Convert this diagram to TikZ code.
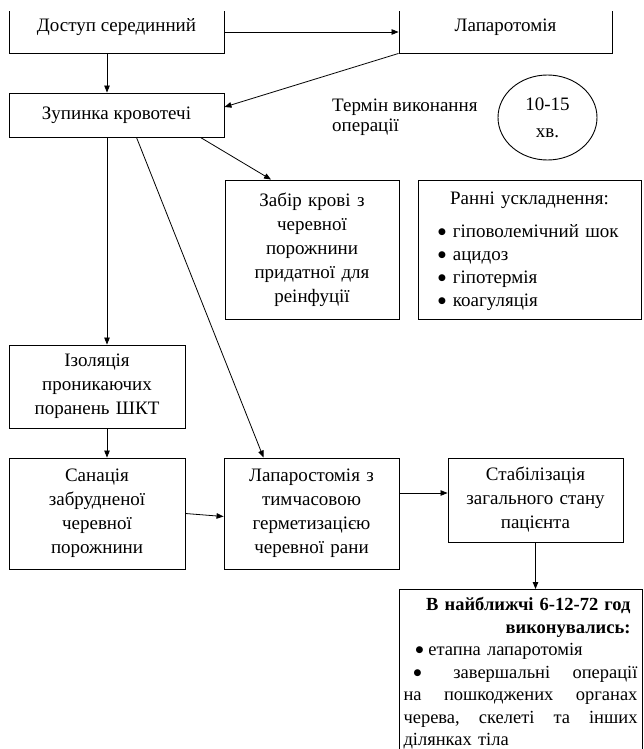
\documentclass[tikz,border=0pt]{standalone}
\usepackage{fontspec}
\setmainfont{Liberation Serif}
\newfontfamily\symfont{DejaVu Sans}
\usetikzlibrary{shapes.geometric,arrows.meta}

\newcommand{\bul}{\raisebox{3pt}{\symfont\fontsize{9}{10}\selectfont ●}}

\tikzset{
  box/.style={shape=rectangle,draw=black,line width=0.9pt,align=center,inner sep=2pt},
  arr/.style={-{Triangle[length=7pt,width=5.5pt]},line width=0.8pt},
}

\begin{document}
\begin{tikzpicture}[x=1pt,y=-1pt,font=\fontsize{19}{24}\selectfont]
        \useasboundingbox (0,0) rectangle (644,749);
        \clip (0,12) rectangle (644,749);
        \coordinate (axis) at (107,0);

        \node[box,minimum width=215pt,minimum height=52pt] (dostup) at (116.5,27) {Доступ серединний};
        \node[box,minimum width=213pt,minimum height=52pt] (lapt) at (505.5,27) {Лапаротомія};
        \node[box,minimum width=215pt,minimum height=44pt] (zup) at (116.5,115) {Зупинка кровотечі};
        \node[anchor=west,align=left,inner sep=0pt,font=\fontsize{19}{20}\selectfont] (termin) at (332,117) {Термін виконання\\операції};
        \node[shape=ellipse,draw=black,line width=0.9pt,minimum width=99pt,minimum height=85pt,inner sep=0pt,align=center,font=\fontsize{19}{27}\selectfont] (circ) at (547.5,117.5) {10-15\\хв.};
        \node[box,minimum width=174pt,minimum height=139pt,text width=164pt] (zabir) at (312,249.5) {Забір крові з\\черевної\\порожнини\\придатної для\\реінфуції};
        \node[box,minimum width=223pt,minimum height=139pt,text width=205pt,align=left,font=\fontsize{19}{23}\selectfont] (rann) at (529.5,249.5) {\rule{0pt}{17pt}\hfill Ранні ускладнення:\hfill\null\\[10pt]
            \hspace*{11pt}\bul\hspace*{7pt}гіповолемічний шок\\
            \hspace*{11pt}\bul\hspace*{7pt}ацидоз\\
            \hspace*{11pt}\bul\hspace*{7pt}гіпотермія\\
            \hspace*{11pt}\bul\hspace*{7pt}коагуляція};
        \node[box,minimum width=176pt,minimum height=83pt,text width=168pt] (izol) at (97,386.5) {Ізоляція\\проникаючих\\поранень ШКТ};
        \node[box,minimum width=176pt,minimum height=111pt,text width=168pt] (sanac) at (97,513.5) {Санація\\забрудненої\\черевної\\порожнини};
        \node[box,minimum width=175pt,minimum height=111pt,text width=167pt] (lapst) at (311.5,513.5) {Лапаростомія з\\тимчасовою\\герметизацією\\черевної рани};
        \node[box,minimum width=175pt,minimum height=84pt,text width=167pt] (stab) at (535.5,500) {Стабілізація\\загального стану\\пацієнта};
        \node[box,anchor=north,minimum width=243pt,text width=234pt,align=left,inner ysep=8pt,font=\fontsize{18.5}{22.5}\selectfont] (final) at (520.5,589) {\hfill\textbf{В найближчі 6-12-72 год}\hspace*{7pt}\null\\
            \hfill\textbf{виконувались:}\hspace*{7pt}\null\\
            \hspace*{12pt}\bul\hspace*{5pt}етапна лапаротомія\\
            \hspace*{10pt}\bul\hspace*{32pt}завершальні\hfill операції\\
            на\hfill пошкоджених\hfill органах\\
            черева,\hfill скелеті\hfill та\hfill інших\\
            ділянках тіла};

        \coordinate (s1) at ([yshift=7pt]stab.west);
        \draw[arr] ([yshift=-5pt]dostup.east) -- ([yshift=-5pt]lapt.west);
        \draw[arr] (dostup.south -| axis) -- (zup.north -| axis);
        \draw[arr] (lapt.south west) -- ([yshift=8pt]zup.east);
        \draw[arr] ([xshift=84pt]zup.south) -- ([xshift=-41pt]zabir.north);
        \draw[arr] ([xshift=20pt]zup.south) -- ([xshift=-48pt]lapst.north);
        \draw[arr] (zup.south -| axis) -- (izol.north -| axis);
        \draw[arr] (izol.south -| axis) -- (sanac.north -| axis);
        \draw[arr] (sanac.east) -- ([yshift=-3pt]lapst.west);
        \draw[arr] (s1 -| lapst.east) -- (s1);
        \draw[arr] (stab.south) -- (stab.south |- final.north);
    \end{tikzpicture}
\end{document}
